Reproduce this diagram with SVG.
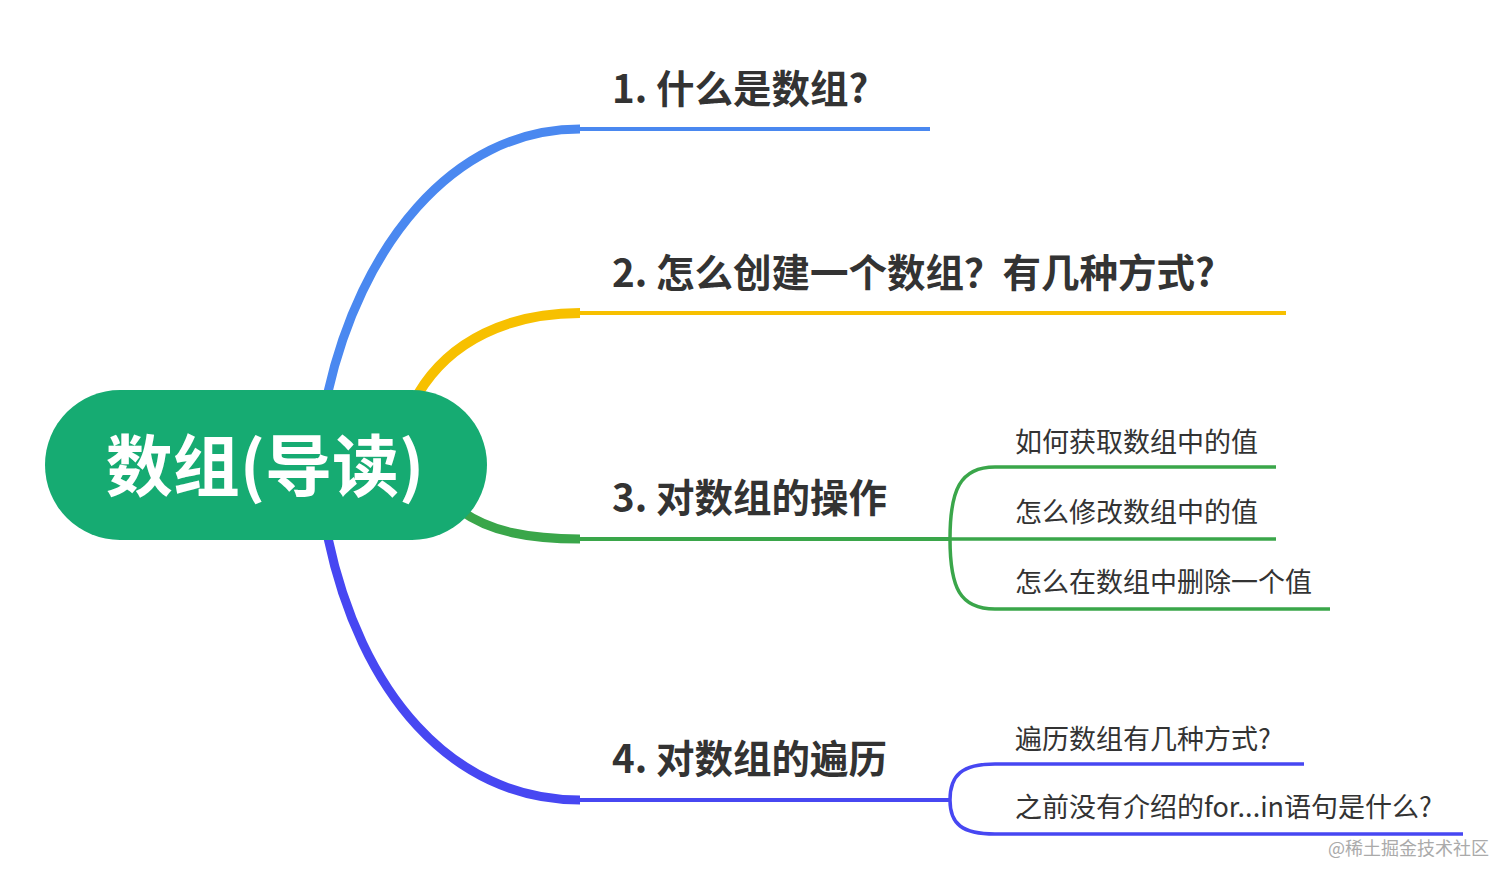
<svg xmlns="http://www.w3.org/2000/svg" width="1512" height="883" viewBox="0 0 1512 883">
<style>
.t{font-family:"Noto Sans CJK SC","Noto Sans",sans-serif;fill:#333}
.m{font-size:38.5px;font-weight:bold}
.s{font-size:27px}
path{fill:none;stroke-linecap:butt}
</style>
<rect width="1512" height="883" fill="#fff"/>
<g id="connectors">
<path d="M328 392 C360 250 450 129 580 129" stroke="#4a88f0" stroke-width="9"/>
<path d="M575 129 H930" stroke="#4a88f0" stroke-width="4"/>
<path d="M418 394 C450 340 510 313 580 313" stroke="#f7c000" stroke-width="10"/>
<path d="M575 313 H1286" stroke="#f7c000" stroke-width="4"/>
<path d="M460 510 C490 532 530 539 580 539" stroke="#3aa64a" stroke-width="9"/>
<path d="M575 539 H950" stroke="#3aa64a" stroke-width="4"/>
<path d="M950 539 C950 490 960 467 995 467 H1276" stroke="#3aa64a" stroke-width="3.5"/>
<path d="M950 539 H1276" stroke="#3aa64a" stroke-width="3.5"/>
<path d="M950 539 C950 588 960 609 995 609 H1330" stroke="#3aa64a" stroke-width="3.5"/>
<path d="M328 538 C360 690 450 800 580 800" stroke="#4747f2" stroke-width="9"/>
<path d="M575 800 H950" stroke="#4747f2" stroke-width="4"/>
<path d="M950 800 C950 775 962 764 995 764 H1304" stroke="#4747f2" stroke-width="3.5"/>
<path d="M950 800 C950 824 962 834 995 834 H1463" stroke="#4747f2" stroke-width="3.5"/>
</g>
<g id="root">
<rect x="45" y="390" width="442" height="150" rx="75" fill="#16ab72"/>
<text x="265" y="491" text-anchor="middle" font-family="Noto Sans CJK SC,sans-serif" font-size="67" font-weight="bold" fill="#fff">数组(导读)</text>
</g>
<g id="n1"><text class="t m" x="612" y="103">1. 什么是数组?</text></g>
<g id="n2"><text class="t m" x="612" y="287">2. 怎么创建一个数组？有几种方式?</text></g>
<g id="n3"><text class="t m" x="612" y="512">3. 对数组的操作</text></g>
<g id="n31"><text class="t s" x="1015" y="452">如何获取数组中的值</text></g>
<g id="n32"><text class="t s" x="1015" y="522">怎么修改数组中的值</text></g>
<g id="n33"><text class="t s" x="1015" y="592">怎么在数组中删除一个值</text></g>
<g id="n4"><text class="t m" x="612" y="773">4. 对数组的遍历</text></g>
<g id="n41"><text class="t s" x="1015" y="749">遍历数组有几种方式?</text></g>
<g id="n42"><text class="t s" x="1015" y="817">之前没有介绍的for...in语句是什么?</text></g>
<text x="1328" y="855" font-family="Noto Sans CJK SC,sans-serif" font-size="18" fill="#aaa">@稀土掘金技术社区</text>
</svg>
